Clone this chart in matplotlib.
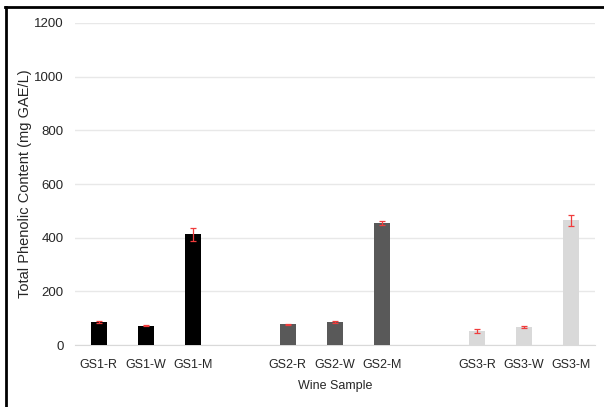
"""Total phenolic content of the wine samples, grouped by grape source."""

import matplotlib.pyplot as plt
from matplotlib.lines import Line2D

plt.rcParams["font.family"] = ["Liberation Sans", "DejaVu Sans"]

samples = ["GS1-R", "GS1-W", "GS1-M",
           "GS2-R", "GS2-W", "GS2-M",
           "GS3-R", "GS3-W", "GS3-M"]
tpc = [85, 72, 412, 78, 87, 455, 52, 67, 465]
tpc_err = [4, 3, 25, 2, 4, 6, 7, 5, 20]
group_colors = ["#000000", "#595959", "#d9d9d9"]

# three bars per group, one empty slot between groups
positions = [i + i // 3 for i in range(len(samples))]
colors = [group_colors[i // 3] for i in range(len(samples))]

fig = plt.figure(figsize=(6.04, 4.07), dpi=100)
ax = fig.add_axes([0.1242, 0.1523, 0.861, 0.7912])

ax.bar(positions, tpc, width=0.34, color=colors, zorder=2)
ax.errorbar(positions, tpc, yerr=tpc_err, fmt="none", ecolor="#f03c3c",
            elinewidth=0.9, capsize=2.2, capthick=0.9, zorder=3)

ax.set_xlim(-0.5, 10.5)
ax.set_ylim(0, 1200)
ax.set_yticks(range(0, 1201, 200))
ax.set_xticks(positions)
ax.set_xticklabels(samples)

ax.grid(axis="y", color="#e8e8e8", linewidth=1, zorder=0)
ax.set_axisbelow(True)
for side in ["top", "right", "left"]:
    ax.spines[side].set_visible(False)
ax.spines["bottom"].set_color("#d9d9d9")
ax.spines["bottom"].set_zorder(1)

ax.tick_params(axis="both", length=0, labelcolor="#262626")
ax.tick_params(axis="x", pad=10, labelsize=9)
ax.tick_params(axis="y", pad=8, labelsize=9.5)

ax.set_xlabel("Wine Sample", fontsize=9, color="#262626")
ax.set_ylabel("Total Phenolic Content (mg GAE/L)", fontsize=10.5,
              color="#262626")
ax.xaxis.set_label_coords(0.5, -0.11)
ax.yaxis.set_label_coords(-0.083, 0.5)

# frame lines along the top and left edges
fig.add_artist(Line2D([5 / 604, 1], [1 - 7 / 407] * 2,
                      transform=fig.transFigure, color="black", linewidth=2))
fig.add_artist(Line2D([6 / 604] * 2, [0, 1 - 7 / 407],
                      transform=fig.transFigure, color="black", linewidth=2))

fig.savefig("out.png", dpi=100)
